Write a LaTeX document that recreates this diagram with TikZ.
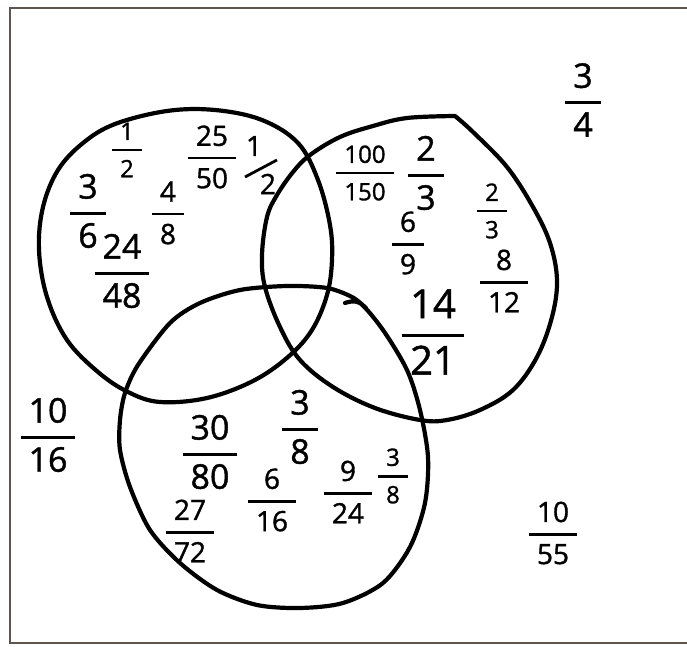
\documentclass[tikz,border=0pt]{standalone}
\usepackage{amsmath}
\usepackage{fontspec}
\setmainfont{Open Sans}[FakeBold=1.2]
\usepackage{xcolor}
\usepackage{tikz}

\definecolor{framegray}{RGB}{95,85,80}
% handwritten looking fraction
\newcommand{\hf}[2]{\genfrac{}{}{1.4pt}{0}{\kern4pt\text{#1}\kern4pt}{\kern4pt\text{#2}\kern4pt}}

\begin{document}
\begin{tikzpicture}[x=0.5pt, y=-0.5pt,
    venn/.style={line width=2.1pt, line join=round, line cap=round},
    bigfrac/.style={inner sep=0pt, font=\fontsize{17}{17}\selectfont},
    midfrac/.style={inner sep=0pt, font=\fontsize{14}{14}\selectfont},
    smallfrac/.style={inner sep=0pt, font=\fontsize{12}{12}\selectfont}]
    \useasboundingbox (0,0) rectangle (687,647);
    % Frame
    \draw[framegray, line width=0.9pt] (687,8) -- (10,8) -- (10,643) -- (687,643);

    % Set A (top left)
    \draw[venn] plot[smooth cycle, tension=0.6] coordinates {
        (167,111) (215,110) (262,120) (298,143) (318,180) (330,225) (332,260)
        (327,295) (312,330) (288,357) (253,381) (207,398) (160,402) (128,392)
        (98,372) (67,340) (47,297) (39,250) (43,207) (58,170) (83,143) (115,124)};
    % Set B (top right), corner at the top
    \draw[venn] plot[smooth, tension=0.6] coordinates {
        (455,116) (473,132) (507,167) (533,207) (550,243) (557,280) (552,317)
        (537,357) (513,390) (480,410) (447,420) (420,420) (375,408) (333,387)
        (300,360) (280,327) (265,287) (262,255) (267,217) (277,195) (293,172)
        (310,155) (340,137) (373,126) (407,118) (455,116)};
    % Set C (bottom)
    \draw[venn] plot[smooth, tension=0.5] coordinates {
        (345,303) (360,303) (383,330) (407,370) (420,410) (428,457) (425,503)
        (410,547) (383,583) (343,603) (300,608) (257,605) (217,590) (180,563)
        (150,530) (130,487) (120,450) (120,420) (125,393) (138,365) (170,323)
        (200,303) (240,290) (287,286) (327,288) (352,297) (366,308)};

    % Only A
    \node[smallfrac] (a12) at (127,150) {$\hf{1}{2}$};
    \node[midfrac] (a2550) at (212,157) {$\hf{25}{50}$};
    % slashed 1/2
    \node[midfrac] (a12num) at (254,146) {1};
    \node[midfrac] (a12den) at (268,184) {2};
    \coordinate (a12s) at (245,177);
    \coordinate (a12e) at (277,160);
    \draw[line width=1.4pt] (a12s) -- (a12e);
    \node[bigfrac] (a36) at (88,211) {$\hf{3}{6}$};
    \node[midfrac] (a48) at (168,213) {$\hf{4}{8}$};
    \node[bigfrac] (a2448) at (122,271) {$\hf{24}{48}$};

    % Only B
    \node[smallfrac] (b100150) at (365,173) {$\hf{100}{150}$};
    \node[bigfrac] (b23) at (426,173) {$\hf{2}{3}$};
    \node[smallfrac] (b23b) at (492,211) {$\hf{2}{3}$};
    \node[midfrac] (b69) at (408,243) {$\hf{6}{9}$};
    \node[midfrac] (b812) at (504,281) {$\hf{8}{12}$};
    \node[font=\fontsize{20}{20}\selectfont, inner sep=0pt] (b1421) at (433,332) {$\hf{14}{21}$};

    % Only C
    \node[bigfrac] (c3080) at (210,452) {$\hf{30}{80}$};
    \node[bigfrac] (c38) at (300,427) {$\hf{3}{8}$};
    \node[midfrac] (c616) at (272,500) {$\hf{6}{16}$};
    \node[midfrac] (c924) at (348,492) {$\hf{9}{24}$};
    \node[smallfrac] (c38b) at (393,476) {$\hf{3}{8}$};
    \node[midfrac] (c2772) at (190,531) {$\hf{27}{72}$};

    % Outside
    \node[bigfrac] (o34) at (583,100) {$\hf{3}{4}$};
    \node[bigfrac] (o1016) at (48,435) {$\hf{10}{16}$};
    \node[midfrac] (o1055) at (553,533) {$\hf{10}{55}$};
\end{tikzpicture}
\end{document}
